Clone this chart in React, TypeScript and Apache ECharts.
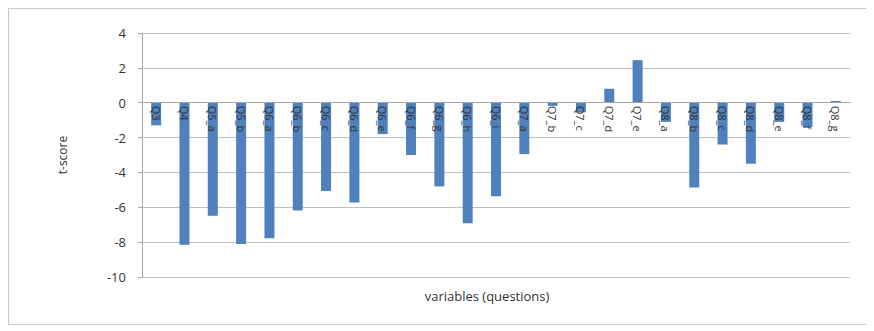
import React, { useEffect, useRef } from "react";
import * as echarts from "echarts";

const categories = [
  "Q3", "Q4", "Q5_a", "Q5_b", "Q6_a", "Q6_b", "Q6_c", "Q6_d", "Q6_e", "Q6_f",
  "Q6_g", "Q6_h", "Q6_i", "Q7_a", "Q7_b", "Q7_c", "Q7_d", "Q7_e", "Q8_a", "Q8_b",
  "Q8_c", "Q8_d", "Q8_e", "Q8_f", "Q8_g",
];
const tScores = [
  -1.3, -8.15, -6.48, -8.1, -7.77, -6.19, -5.07, -5.73, -1.8, -3.0,
  -4.8, -6.91, -5.37, -2.95, -0.18, -0.55, 0.8, 2.44, -1.1, -4.86,
  -2.4, -3.5, -1.1, -1.4, 0.1,
];
const yTitle = "t-score";
const xTitle = "variables (questions)";

const Y_MIN = -10;
const Y_MAX = 4;
const GRID_TOP = 25;
const GRID_BOTTOM = 62;
const HEIGHT = 331;

export default function App() {
  const ref = useRef<HTMLDivElement>(null);
  useEffect(() => {
    const chart = echarts.init(ref.current!, null, { renderer: "svg" });
    const gridH = HEIGHT - GRID_TOP - GRID_BOTTOM;
    const zeroOffset = -(gridH * (0 - Y_MIN)) / (Y_MAX - Y_MIN);
    chart.setOption({
      animation: false,
      backgroundColor: "#ffffff",
      textStyle: { fontFamily: "Open Sans, Liberation Sans, sans-serif" },
      graphic: [
        {
          type: "rect",
          shape: { x: 0.5, y: 0.5, width: 863, height: 316 },
          style: { fill: "none", stroke: "#c8c8c8", lineWidth: 1 },
        },
        {
          type: "text",
          x: 479,
          y: 288,
          style: {
            text: xTitle,
            fill: "#333",
            fontSize: 13,
            fontFamily: "Open Sans, Liberation Sans, sans-serif",
            align: "center",
            verticalAlign: "middle",
          },
        },
      ],
      grid: { left: 134, right: 32, top: GRID_TOP, bottom: GRID_BOTTOM, outerBoundsMode: "none" },
      xAxis: {
        type: "category",
        data: categories,
        position: "bottom",
        offset: zeroOffset,
        z: 10,
        axisLine: { onZero: false, lineStyle: { color: "#a6a6a6" } },
        axisTick: { show: false },
        axisLabel: {
          rotate: -90,
          interval: 0,
          color: "#333",
          fontSize: 11,
          margin: 3,
        },
      },
      yAxis: {
        type: "value",
        min: Y_MIN,
        max: Y_MAX,
        interval: 2,
        name: yTitle,
        nameLocation: "middle",
        nameGap: 74,
        nameTextStyle: { color: "#333", fontSize: 12 },
        axisLine: { show: true, lineStyle: { color: "#a6a6a6" } },
        axisTick: { show: true, length: 4, lineStyle: { color: "#a6a6a6" } },
        axisLabel: { color: "#333", fontSize: 13, margin: 16 },
        splitLine: { lineStyle: { color: "#c0c0c0" } },
      },
      series: [
        {
          type: "bar",
          data: tScores,
          barWidth: 10,
          z: 2,
          itemStyle: { color: "#4f81bd" },
        },
      ],
    });
    return () => chart.dispose();
  }, []);
  return <div ref={ref} style={{ width: 874, height: 331 }} />;
}
